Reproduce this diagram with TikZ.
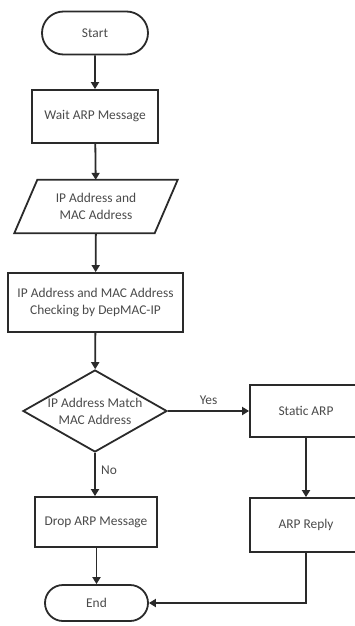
\documentclass[tikz,border=0pt]{standalone}
\usepackage{fontspec}
\setmainfont{Carlito}
\usetikzlibrary{shapes.geometric,shapes.misc,arrows.meta}
\definecolor{txt}{HTML}{4A4A4A}
\definecolor{ln}{HTML}{2A2A2A}
\begin{document}
\begin{tikzpicture}[x=1pt,y=-1pt,
  every node/.style={font=\fontsize{13.4}{17}\selectfont, text=txt, align=center},
  box/.style={draw=ln, line width=1.8pt, rectangle, inner sep=0pt},
  term/.style={draw=ln, line width=1.8pt, rounded rectangle, inner sep=0pt},
  flow/.style={draw=ln, line width=1.8pt, -{Triangle[length=7pt,width=8pt]}},
  lbl/.style={font=\fontsize{13.4}{17}\selectfont, text=txt}]
\useasboundingbox (0,0) rectangle (355,626);
\node[term, minimum width=106pt, minimum height=43pt] (start) at (95,33) {Start};
\node[box, minimum width=126pt, minimum height=53pt] (wait) at (95,116.5) {Wait ARP Message};
\node[inner sep=0pt, minimum width=140pt, minimum height=53pt] (io) at (96,206.5) {IP Address and\\MAC Address};
\draw[draw=ln, line width=1.8pt, line join=miter] ([xshift=-11.5pt]io.south west) -- ([xshift=11.5pt]io.north west) -- ([xshift=11.5pt]io.north east) -- ([xshift=-11.5pt]io.south east) -- cycle;
\node[box, minimum width=175pt, minimum height=59pt] (check) at (95.5,302.5) {IP Address and MAC Address\\Checking by DepMAC-IP};
\node[diamond, draw=ln, line width=1.8pt, minimum width=144pt, minimum height=82pt, inner sep=0pt] (dec) at (95,411) {};
\node[inner sep=0pt] (dectext) at (dec.center) {IP Address Match\\MAC Address};
\node[box, minimum width=112pt, minimum height=52pt] (static) at (306,411) {Static ARP};
\node[box, minimum width=112pt, minimum height=54pt] (reply) at (306,525) {ARP Reply};
\node[box, minimum width=122pt, minimum height=50pt] (drop) at (96,522) {Drop ARP Message};
\node[term, minimum width=103pt, minimum height=36pt] (end) at (96.5,603) {End};
\draw[flow] (start) -- (wait);
\draw[flow] (wait) -- (io);
\draw[flow] (io) -- (check);
\draw[flow] (check) -- (dec);
\draw[flow] (dec) -- node[lbl, above, yshift=2pt] (yes) {Yes} (static);
\draw[flow] (dec.south) -- node[lbl, right, xshift=2pt, pos=0.4] (no) {No} (drop.north -| dec.south);
\draw[flow] (static) -- (reply);
\draw[flow] (drop.south -| end.north) -- (end.north);
\draw[flow] (reply.south) |- (end.east);
\end{tikzpicture}
\end{document}
